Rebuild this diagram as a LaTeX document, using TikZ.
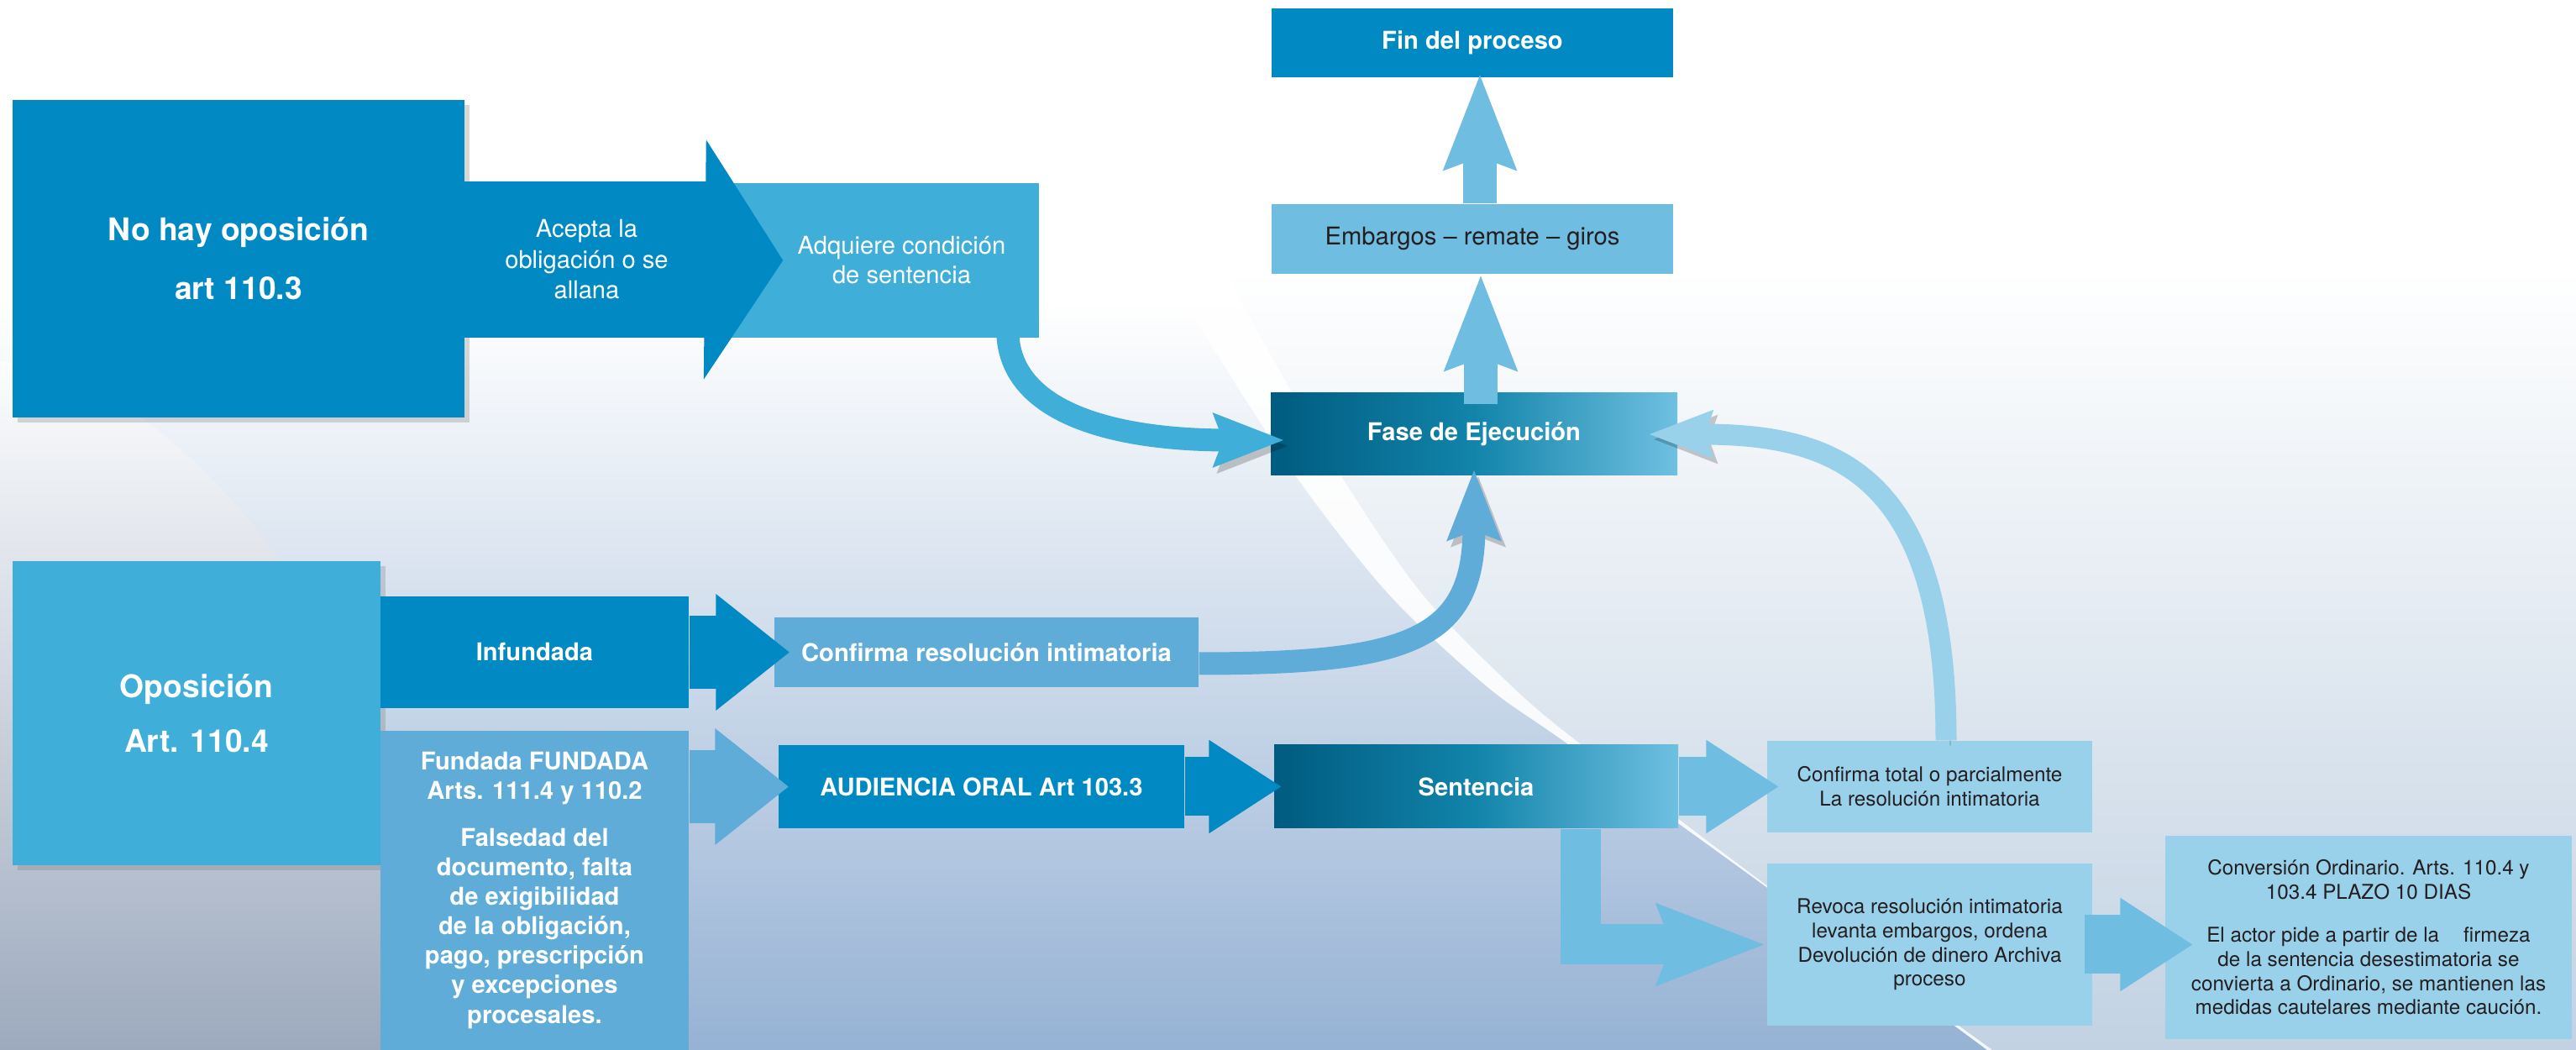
\documentclass[tikz,border=0pt]{standalone}
\usepackage{fontspec}
\setmainfont{TeX Gyre Heros}
\usetikzlibrary{arrows.meta,calc,shadows}

\definecolor{dkblue}{RGB}{0,137,194}
\definecolor{mdblue}{RGB}{63,174,216}
\definecolor{fdblue}{RGB}{94,172,215}
\definecolor{ltblue}{RGB}{111,189,224}
\definecolor{plblue}{RGB}{153,208,234}
\definecolor{gradL}{RGB}{0,91,128}
\definecolor{gradM}{RGB}{18,132,170}
\definecolor{gradR}{RGB}{111,192,225}
\definecolor{txtdark}{RGB}{35,31,32}
\definecolor{bgmid}{RGB}{222,230,240}
\definecolor{bgbot}{RGB}{150,178,212}
\definecolor{bggray}{RGB}{160,168,183}
\definecolor{bgcyan}{RGB}{214,235,246}
\definecolor{bgright}{RGB}{194,210,226}

\begin{document}
\begin{tikzpicture}[
    stage/.style={rectangle, inner sep=0pt, align=center, text=white, font=\fontsize{8.3}{10}\selectfont\bfseries},
    origin/.style={stage, font=\fontsize{10.6}{20}\selectfont\bfseries, drop shadow={shadow xshift=0.06cm, shadow yshift=-0.06cm, opacity=0.3}},
    ruling/.style={stage, left color=gradL, right color=gradR, middle color=gradM},
    outcome/.style={rectangle, inner sep=0pt, align=center, fill=plblue, text=txtdark, font=\fontsize{6.9}{8.2}\selectfont},
    notch/.style={line width=0.87cm, -{Triangle[length=0.88cm, width=1.33cm]}},
    notchsm/.style={line width=0.70cm, -{Triangle[length=0.87cm, width=1.05cm]}},
    uparrow/.style={ltblue, line width=0.40cm, -{Stealth[length=1.12cm, width=0.82cm, inset=0.13cm]}},
    curved/.style={line width=0.27cm, -{Stealth[length=0.83cm, width=0.61cm, inset=0.10cm]},
        preaction={draw=black, opacity=0.2, transform canvas={shift={(0.05,-0.07)}}}},
    curvedsm/.style={line width=0.25cm, -{Stealth[length=0.75cm, width=0.54cm, inset=0.08cm]},
        preaction={draw=black, opacity=0.2, transform canvas={shift={(0.05,-0.06)}}}}
]
\useasboundingbox (0,0) rectangle (30.67,12.5);

% Background
\fill[white] (0,0) rectangle (30.67,12.5);
\shade[top color=white, middle color=bgmid, bottom color=bgbot] (0,0) rectangle (30.67,8.9);
\shade[top color=white, bottom color=bggray, opacity=0.75] (0,0) -- (0,8.2) .. controls (2.2,7.9) and (3.6,5.6) .. (4.7,3.6) .. controls (5.6,2.0) and (6.2,0.9) .. (6.7,0) -- cycle;
\shade[top color=white, middle color=bgcyan, bottom color=bgright] plot[smooth] coordinates {(14.6,9.3) (14.93,8.63) (15.97,6.83) (16.93,5.43) (18.00,4.33) (18.82,3.64) (21.06,1.94) (23.72,0)} -- (30.67,0) -- (30.67,9.3) -- cycle;
\fill[white, opacity=0.9] plot[smooth] coordinates {(13.85,9.3) (14.27,8.63) (15.43,6.83) (16.53,5.43) (17.70,4.33) (18.67,3.64) (21.03,1.94) (23.66,0)}
    -- plot[smooth] coordinates {(23.72,0) (21.06,1.94) (18.82,3.64) (18.00,4.33) (16.93,5.43) (15.97,6.83) (14.93,8.63) (14.6,9.3)} -- cycle;

% No hay oposicion
\node[origin, fill=dkblue, minimum width=5.38cm, minimum height=3.78cm] (nohay) at (2.84, 9.42) {No hay oposición\\art 110.3};
\node[stage, fill=mdblue, font=\fontsize{8.3}{10}\selectfont, minimum width=3.67cm, minimum height=1.84cm] (adquiere) at (10.535, 9.40) {\hspace*{0.4cm}Adquiere condición\\\hspace*{0.4cm}de sentencia};
\node[stage, fill=dkblue, font=\fontsize{8.3}{10.4}\selectfont, minimum width=2.91cm, minimum height=1.86cm] (acepta) at (6.985, 9.41) {Acepta la\\obligación o se\\allana};
\draw[dkblue, line width=1.86cm, -{Triangle[length=0.93cm, width=2.81cm]}] ([xshift=-0.1cm]acepta.east) -- ([xshift=0.63cm]adquiere.west);

% Ejecucion
\node[stage, fill=dkblue, minimum width=4.78cm, minimum height=0.82cm] (fin) at (17.53, 11.99) {Fin del proceso};
\node[stage, fill=ltblue, text=txtdark, font=\fontsize{8.3}{10}\selectfont, minimum width=4.78cm, minimum height=0.83cm] (embargos) at (17.53, 9.655) {Embargos – remate – giros};
\node[ruling, minimum width=4.84cm, minimum height=0.98cm] (fase) at (17.55, 7.33) {Fase de Ejecución};

% Oposicion
\node[origin, fill=mdblue, font=\fontsize{10.6}{18.5}\selectfont\bfseries, minimum width=4.38cm, minimum height=3.62cm] (oposicion) at (2.34, 4.01) {Oposición\\Art. 110.4};
\node[stage, fill=dkblue, minimum width=3.67cm, minimum height=1.33cm] (infundada) at (6.365, 4.735) {Infundada};
\node[stage, fill=fdblue, minimum width=5.05cm, minimum height=0.83cm] (confres) at (11.745, 4.735) {Confirma resolución intimatoria};
\node[stage, fill=fdblue, minimum width=3.67cm, minimum height=3.80cm] (fundada) at (6.365, 1.90) {Fundada FUNDADA\\Arts. 111.4 y 110.2\\[5.7pt]Falsedad del\\documento, falta\\de exigibilidad\\de la obligación,\\pago, prescripción\\y excepciones\\procesales.};
\node[stage, fill=dkblue, minimum width=4.83cm, minimum height=0.99cm] (audiencia) at (11.685, 3.135) {AUDIENCIA ORAL Art 103.3};
\node[ruling, minimum width=4.81cm, minimum height=0.99cm] (sentencia) at (17.575, 3.135) {Sentencia};

% Resultados
\node[outcome, minimum width=3.87cm, minimum height=1.09cm] (conftot) at (22.975, 3.135) {Confirma total o parcialmente\\La resolución intimatoria};
\node[outcome, minimum width=3.87cm, minimum height=1.93cm] (revoca) at (22.975, 1.255) {Revoca resolución intimatoria\\levanta embargos, ordena\\Devolución de dinero Archiva\\proceso};
\node[outcome, minimum width=4.84cm, minimum height=2.42cm] (conversion) at (28.20, 1.34) {Conversión Ordinario. Arts. 110.4 y\\103.4 PLAZO 10 DIAS\\[6.3pt]El actor pide a partir de la\hspace{1.2em}firmeza\\de la sentencia desestimatoria se\\convierta a Ordinario, se mantienen las\\medidas cautelares mediante caución.};

% Arrows
\draw[uparrow] ([xshift=0.08cm, yshift=-0.14cm]fase.north) -- ([xshift=0.10cm]embargos.south);
\draw[uparrow] ([xshift=0.09cm]embargos.north) -- ([xshift=0.09cm, yshift=0.05cm]fin.south);

\draw[curved, mdblue] ($(adquiere.south east)+(-0.38,0.10)$) .. controls +(0,-1.0) and +(-2.0,0) .. ([xshift=0.17cm, yshift=-0.07cm]fase.west);
\draw[curved, fdblue] ([yshift=-0.135cm]confres.east) .. controls +(2.53,0) and +(0,-2.02) .. ([yshift=0.08cm]fase.south);
\draw[curvedsm, plblue] ([xshift=0.195cm]conftot.north) .. controls +(0,3.22) and +(2.18,0) .. ([xshift=-0.35cm]fase.east);

\draw[notch, dkblue] (infundada.east) -- ([xshift=0.19cm]confres.west);
\draw[notch, fdblue] (fundada.east |- audiencia.west) -- ([xshift=0.13cm]audiencia.west);
\draw[notchsm, dkblue] (audiencia.east) -- ([xshift=0.10cm]sentencia.west);
\draw[notchsm, ltblue] (sentencia.east) -- ([xshift=0.15cm]conftot.west);
\draw[ltblue, line width=0.48cm, -{Stealth[length=1.27cm, width=0.92cm, inset=0.15cm]}] ([xshift=1.245cm]sentencia.south) |- ([xshift=-0.01cm]revoca.west);
\draw[notchsm, ltblue] ($(revoca.east)+(-0.10,0)$) -- ($(revoca.east -| conversion.west)+(0.34,0)$);

\end{tikzpicture}
\end{document}
